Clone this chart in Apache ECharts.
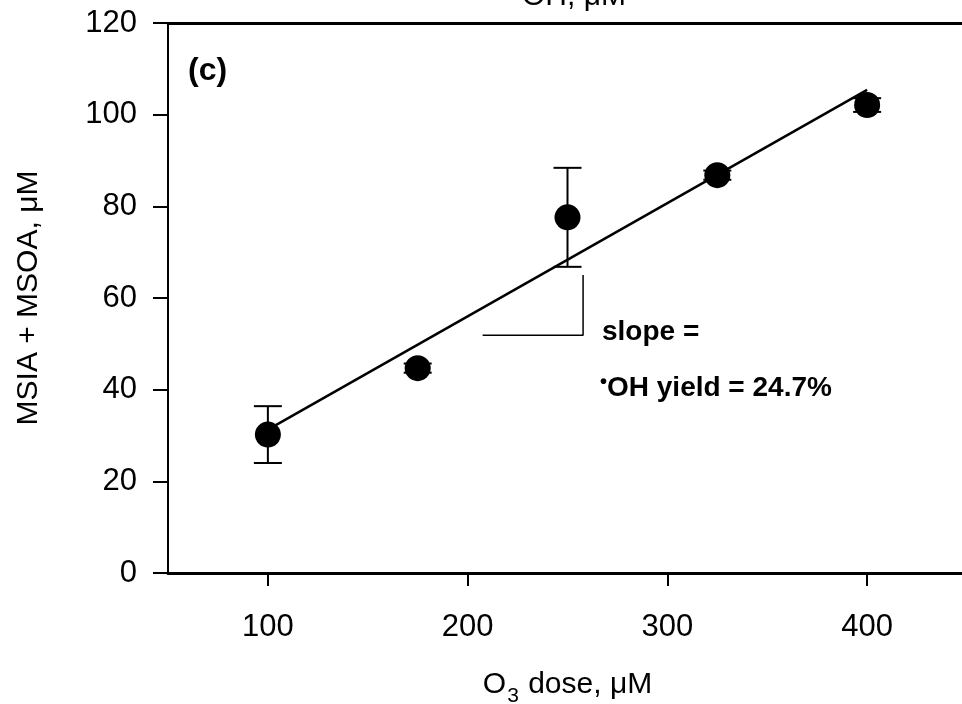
<!DOCTYPE html>
<html>
<head>
<meta charset="utf-8">
<script src="https://cdn.jsdelivr.net/npm/echarts@6/dist/echarts.min.js"></script>
<style>
  html, body { margin: 0; padding: 0; background: #fff; }
  #chart { width: 962px; height: 704px; }
</style>
</head>
<body>
<div id="chart"></div>
<script>
// O3 dose (µM) and the summed MSIA + MSOA product (µM)
const doses = [100, 175, 250, 325, 400];
const products = [30.2, 44.7, 77.6, 86.8, 102.1];
const productErr = [6.2, 1.0, 10.8, 1.0, 1.5];

// Linear fit, slope 0.247 (OH yield 24.7 %)
const fitX = [100, 400];
const fitY = [31.3, 105.4];

// Slope marker drawn below the fit line
const slopeMarkX = [207.5, 257.8, 257.8];
const slopeMarkY = [51.9, 51.9, 65.0];

const xTicks = [100, 200, 300, 400];
const yTicks = [0, 20, 40, 60, 80, 100, 120];

const FONT = '"Liberation Sans", Arial, sans-serif';

const chart = echarts.init(document.getElementById('chart'), null, { renderer: 'canvas' });

chart.setOption({
  backgroundColor: '#ffffff',
  animation: false,
  grid: { left: 168, top: 23, right: -5, bottom: 131, containLabel: false, outerBoundsMode: 'none' },
  xAxis: [
    {
      type: 'value',
      min: 50,
      max: 450,
      position: 'bottom',
      name: '{a|O}{sub|3}{a| dose, μM}',
      nameLocation: 'middle',
      nameGap: 97,
      nameTextStyle: {
        rich: {
          a: { fontSize: 30, fontFamily: FONT, color: '#000', lineHeight: 30, verticalAlign: 'top' },
          sub: { fontSize: 21, fontFamily: FONT, color: '#000', lineHeight: 37, verticalAlign: 'bottom', padding: [0, 1, 0, 1] }
        }
      },
      axisLine: { show: true, onZero: false, lineStyle: { color: '#000', width: 3 } },
      axisTick: { show: true, inside: false, length: 13, customValues: xTicks, lineStyle: { color: '#000', width: 2 } },
      axisLabel: { customValues: xTicks, fontSize: 31, fontFamily: FONT, color: '#000', margin: 39 },
      splitLine: { show: false }
    },
    {
      type: 'value',
      min: 50,
      max: 450,
      position: 'top',
      axisLine: { show: true, onZero: false, lineStyle: { color: '#000', width: 3 } },
      axisTick: { show: false },
      axisLabel: { show: false },
      splitLine: { show: false }
    }
  ],
  yAxis: {
    type: 'value',
    min: 0,
    max: 120,
    interval: 20,
    name: 'MSIA + MSOA, μM',
    nameLocation: 'middle',
    nameGap: 124,
    nameTextStyle: { fontSize: 30, fontFamily: FONT, color: '#000' },
    axisLine: { show: true, onZero: false, lineStyle: { color: '#000', width: 2 } },
    axisTick: { show: true, inside: false, length: 15, lineStyle: { color: '#000', width: 2 } },
    axisLabel: {
      fontSize: 31, fontFamily: FONT, color: '#000', margin: 31,
      formatter: v => (yTicks.indexOf(v) >= 0 ? String(v) : '')
    },
    splitLine: { show: false }
  },
  series: [
    {
      // vertical error bars with caps
      type: 'custom',
      xAxisIndex: 0,
      z: 2,
      data: doses.map((d, i) => [d, products[i] - productErr[i], products[i] + productErr[i]]),
      renderItem: function (params, api) {
        const lo = api.coord([api.value(0), api.value(1)]);
        const hi = api.coord([api.value(0), api.value(2)]);
        const half = 14;
        const style = { stroke: '#000', lineWidth: 2 };
        return {
          type: 'group',
          children: [
            { type: 'line', shape: { x1: lo[0], y1: lo[1], x2: hi[0], y2: hi[1] }, style },
            { type: 'line', shape: { x1: hi[0] - half, y1: hi[1], x2: hi[0] + half, y2: hi[1] }, style },
            { type: 'line', shape: { x1: lo[0] - half, y1: lo[1], x2: lo[0] + half, y2: lo[1] }, style }
          ]
        };
      }
    },
    {
      // fitted line
      type: 'line',
      xAxisIndex: 0,
      z: 3,
      data: fitX.map((x, i) => [x, fitY[i]]),
      symbol: 'none',
      lineStyle: { color: '#000', width: 2.5 },
      silent: true
    },
    {
      // slope marker
      type: 'line',
      xAxisIndex: 0,
      z: 3,
      data: slopeMarkX.map((x, i) => [x, slopeMarkY[i]]),
      symbol: 'none',
      lineStyle: { color: '#000', width: 1.5 },
      silent: true
    },
    {
      type: 'scatter',
      xAxisIndex: 0,
      z: 4,
      data: doses.map((d, i) => [d, products[i]]),
      symbol: 'circle',
      symbolSize: 26,
      itemStyle: { color: '#000', opacity: 1 }
    }
  ],
  graphic: [
    {
      type: 'text',
      left: 188,
      top: 55,
      style: { text: '(c)', fontSize: 32, fontWeight: 'bold', fontFamily: FONT, fill: '#000' }
    },
    {
      type: 'text',
      x: 602,
      y: 332,
      style: { text: 'slope =', fontSize: 28, fontWeight: 'bold', fontFamily: FONT, fill: '#000', verticalAlign: 'middle' }
    },
    {
      type: 'text',
      x: 600,
      y: 388,
      style: {
        text: '{d|•}{b|OH yield = 24.7%}',
        verticalAlign: 'middle',
        rich: {
          d: { fontSize: 20, fontWeight: 'bold', fontFamily: FONT, fill: '#000', verticalAlign: 'top', lineHeight: 28, padding: [-2, 0, 0, 0] },
          b: { fontSize: 28, fontWeight: 'bold', fontFamily: FONT, fill: '#000', verticalAlign: 'top', lineHeight: 28 }
        }
      }
    },
    {
      type: 'text',
      x: 574,
      y: -3,
      style: { text: 'OH, μM', fontSize: 30, fontFamily: FONT, fill: '#000', align: 'center', verticalAlign: 'middle' }
    }
  ]
});
</script>
</body>
</html>
